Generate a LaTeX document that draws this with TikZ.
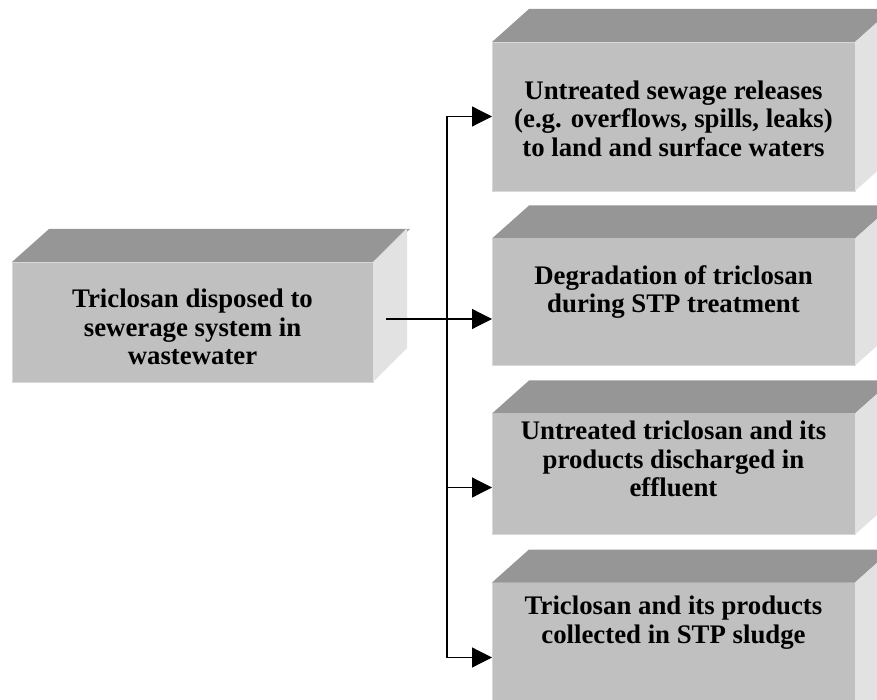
\documentclass[tikz,border=0pt]{standalone}
\usepackage{fontspec}
\setmainfont{Liberation Serif}
\usetikzlibrary{positioning,arrows.meta}
\definecolor{frontgray}{RGB}{192,192,192}
\definecolor{topgray}{RGB}{150,150,150}
\definecolor{sidegray}{RGB}{226,226,226}
\definecolor{edgegray}{RGB}{216,216,216}
\tikzset{
  front/.style={fill=frontgray, draw=edgegray, line width=0.8pt, inner sep=0pt, outer sep=0pt, minimum width=363pt},
  topface/.style={fill=topgray},
  sideface/.style={fill=sidegray},
  boxtext/.style={font=\fontsize{26.8}{28.5}\selectfont\bfseries, align=center, inner sep=0pt},
  link/.style={line width=1.2pt, -{Triangle[length=20pt,width=20pt]}},
  fork/.style={line width=1.2pt, {Triangle[length=20pt,width=20pt]}-{Triangle[length=20pt,width=20pt]}}
}
\begin{document}
\begin{tikzpicture}
\useasboundingbox (0,0) rectangle (877pt,699pt);
\clip (0,0) rectangle (877pt,699pt);

% Drawing source box
\node[front, minimum width=361pt, minimum height=120pt] (src) at (192.5pt,377pt) {};%
\fill[topface] (src.north west) -- ++(37pt,33pt) -- ([shift={(37pt,33pt)}]src.north east) -- (src.north east) -- cycle;%
\fill[sideface] (src.north east) -- ++(34pt,34pt) -- ([shift={(34pt,34pt)}]src.south east) -- (src.south east) -- cycle;%
\node[boxtext] (srctext) at ([yshift=-5pt]src.center) {Triclosan disposed to\\sewerage system in\\wastewater};%

% Drawing box for untreated releases
\node[front, minimum height=149pt] (box1) at (673.5pt,582.5pt) {};%
\fill[topface] (box1.north west) -- ++(37pt,33pt) -- ([shift={(37pt,33pt)}]box1.north east) -- (box1.north east) -- cycle;%
\fill[sideface] (box1.north east) -- ++(37pt,33pt) -- ([shift={(37pt,33pt)}]box1.south east) -- (box1.south east) -- cycle;%
\node[boxtext] (box1text) at ([yshift=-2pt]box1.center) {Untreated sewage releases\\(e.g. overflows, spills, leaks)\\to land and surface waters};%

% Drawing box for degradation
\node[front, minimum height=127pt, below=47.5pt of box1] (box2) {};%
\fill[topface] (box2.north west) -- ++(37pt,33pt) -- ([shift={(37pt,33pt)}]box2.north east) -- (box2.north east) -- cycle;%
\fill[sideface] (box2.north east) -- ++(37pt,33pt) -- ([shift={(37pt,33pt)}]box2.south east) -- (box2.south east) -- cycle;%
\node[boxtext] (box2text) at ([yshift=10pt]box2.center) {Degradation of triclosan\\during STP treatment};%

% Drawing box for effluent
\node[front, minimum height=121pt, below=48pt of box2] (box3) {};%
\fill[topface] (box3.north west) -- ++(37pt,33pt) -- ([shift={(37pt,33pt)}]box3.north east) -- (box3.north east) -- cycle;%
\fill[sideface] (box3.north east) -- ++(37pt,33pt) -- ([shift={(37pt,33pt)}]box3.south east) -- (box3.south east) -- cycle;%
\node[boxtext] (box3text) at ([yshift=15pt]box3.center) {Untreated triclosan and its\\products discharged in\\effluent};%

% Drawing box for sludge
\node[front, minimum height=150pt, below=48pt of box3] (box4) {};%
\fill[topface] (box4.north west) -- ++(37pt,33pt) -- ([shift={(37pt,33pt)}]box4.north east) -- (box4.north east) -- cycle;%
\fill[sideface] (box4.north east) -- ++(37pt,33pt) -- ([shift={(37pt,33pt)}]box4.south east) -- (box4.south east) -- cycle;%
\node[boxtext] (box4text) at ([yshift=35pt]box4.center) {Triclosan and its products\\collected in STP sludge};%

% Drawing connectors
\coordinate (srcout) at ([xshift=13pt,yshift=3pt]src.east);%
\path (srcout) ++(61pt,0) coordinate (split);%
\coordinate (in3) at ([yshift=-13.5pt]box3.west);%
\draw[link] (srcout) -- (srcout -| box2.west);%
\draw[fork] (box1.west) -| (split) |- (box4.west);%
\draw[link] (split |- in3) -- (in3);%
\end{tikzpicture}
\end{document}
